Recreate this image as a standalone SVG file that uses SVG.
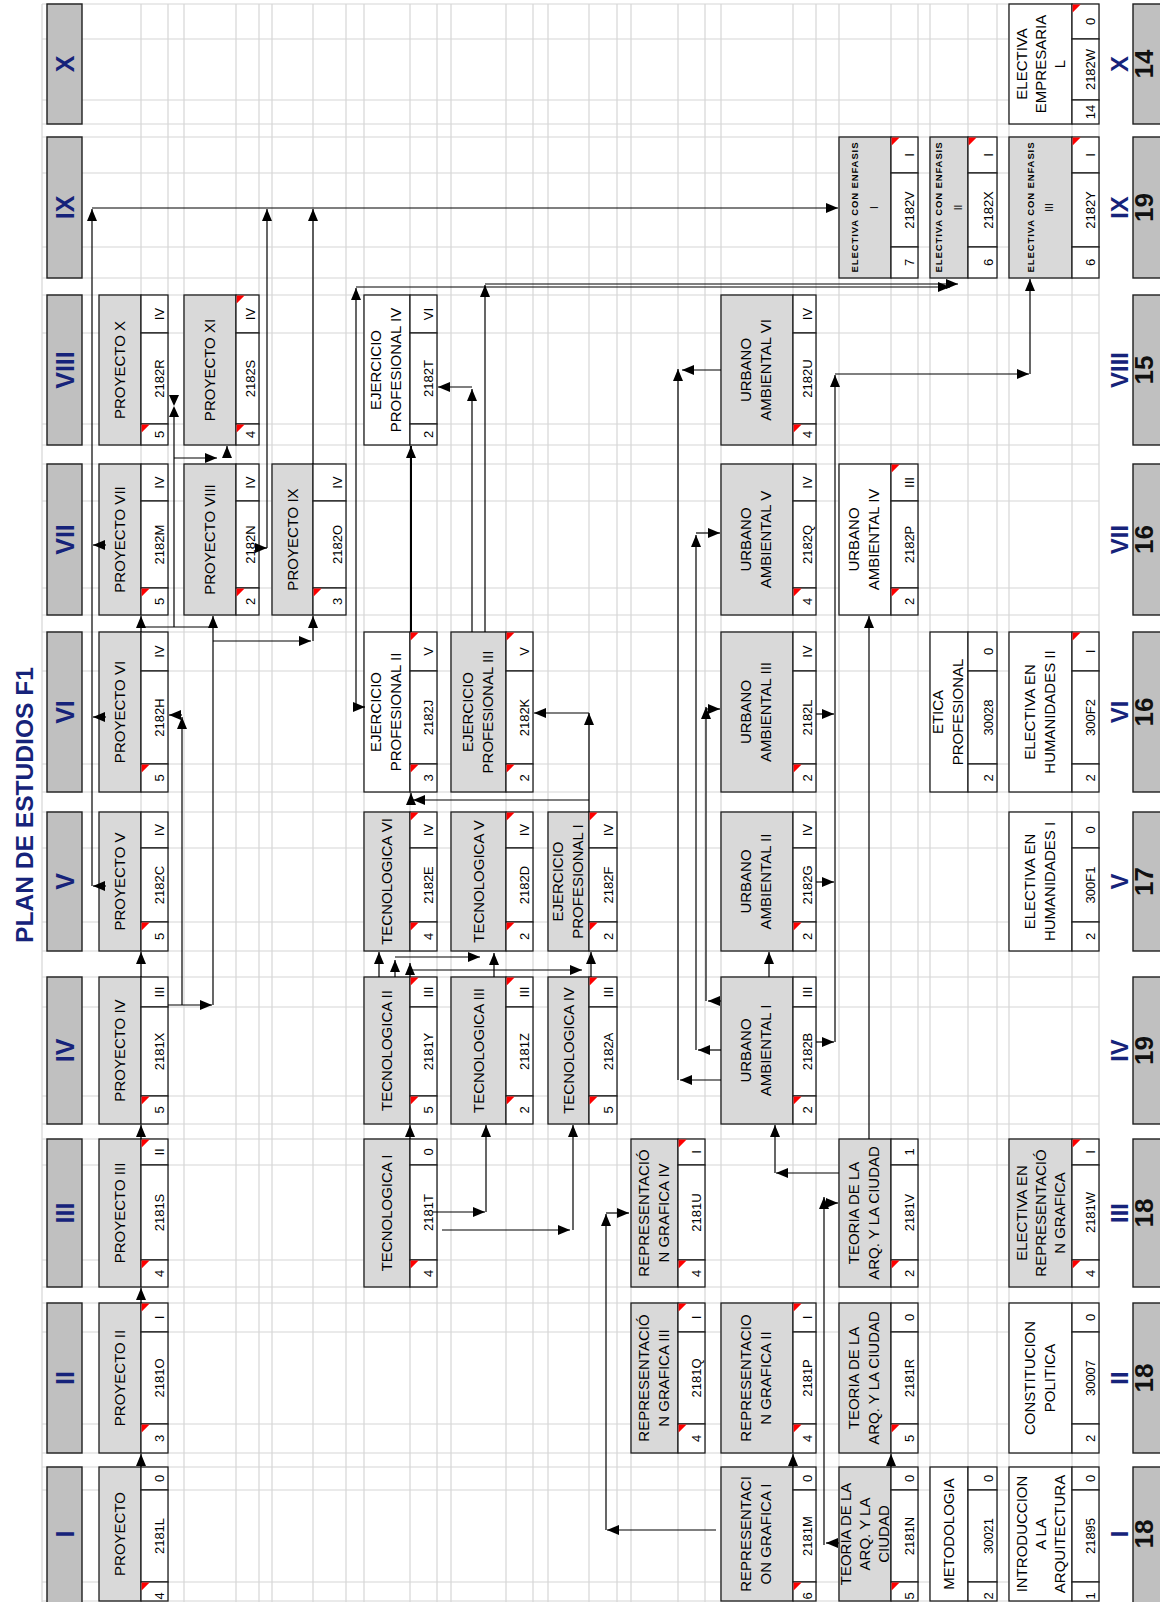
<svg xmlns="http://www.w3.org/2000/svg" width="1160" height="1602" viewBox="0 0 1160 1602">
<style>
.gr{stroke:#d6d6d6;stroke-width:1.2;fill:none}
.hd{fill:#c0c0c0;stroke:#1e1e1e;stroke-width:1.4}
.ng{fill:#d9d9d9;stroke:#1e1e1e;stroke-width:1.3}
.nw{fill:#fff;stroke:#1e1e1e;stroke-width:1.3}
.sc{fill:#fff;stroke:#1e1e1e;stroke-width:1.3}
.rm{fill:#ff0000}
text{font-family:"Liberation Sans",Arial,sans-serif;text-anchor:middle;fill:#000}
.t{font-size:15px}
.s{font-size:13px}
.e{font-size:9.5px;font-weight:bold}
.er{font-size:10px}
.hn{font-size:25px;font-weight:bold;fill:#16237a}
.fr{font-size:24px;font-weight:bold;fill:#16237a}
.fn{font-size:26px;font-weight:bold;fill:#111}
.ti{font-size:24.6px;font-weight:bold;fill:#16237a}
.cn{stroke:#000;stroke-width:1.2;fill:none;marker-end:url(#ah)}
.cl{stroke:#000;stroke-width:1.2;fill:none}
.hf{fill:#000}
</style>
<defs>
<marker id="ah" viewBox="0 0 12 10" refX="12" refY="5" markerWidth="12" markerHeight="10" markerUnits="userSpaceOnUse" orient="auto"><path d="M0 0L12 5L0 10z" fill="#000"/></marker>
</defs>
<rect width="1160" height="1602" fill="#fff"/>
<g id="grid">
<path class="gr" d="M42 4V1602M141 4V1602M168 4V1602M184 4V1602M236 4V1602M259 4V1602M272 4V1602M313 4V1602M346 4V1602M364 4V1602M410 4V1602M437 4V1602M451 4V1602M506 4V1602M533 4V1602M548 4V1602M589 4V1602M617 4V1602M631 4V1602M678 4V1602M705 4V1602M721 4V1602M793 4V1602M816 4V1602M839 4V1602M891 4V1602M918 4V1602M930 4V1602M968 4V1602M997 4V1602M1009 4V1602M1072 4V1602M1099 4V1602"/>
<path class="gr" d="M42 4H1099M42 39H1099M42 100H1099M42 124H1099M42 137H1099M42 173H1099M42 247H1099M42 278H1099M42 295H1099M42 333H1099M42 424H1099M42 445H1099M42 464H1099M42 501H1099M42 588H1099M42 615H1099M42 632H1099M42 671H1099M42 764H1099M42 792H1099M42 812H1099M42 848H1099M42 922H1099M42 951H1099M42 977H1099M42 1007H1099M42 1096H1099M42 1124H1099M42 1139H1099M42 1165H1099M42 1260H1099M42 1287H1099M42 1303H1099M42 1332H1099M42 1424H1099M42 1453H1099M42 1467H1099M42 1490H1099M42 1582H1099M42 1601H1099"/>
</g>
<text class="ti" transform="translate(33 805) rotate(-90)">PLAN DE ESTUDIOS F1</text>
<g id="headers">
<rect class="hd" x="47" y="4" width="35" height="120"/><text class="hn" transform="translate(73.5 64) rotate(-90)">X</text>
<rect class="hd" x="47" y="137" width="35" height="141"/><text class="hn" transform="translate(73.5 207.5) rotate(-90)">IX</text>
<rect class="hd" x="47" y="295" width="35" height="150"/><text class="hn" transform="translate(73.5 370) rotate(-90)">VIII</text>
<rect class="hd" x="47" y="464" width="35" height="151"/><text class="hn" transform="translate(73.5 539.5) rotate(-90)">VII</text>
<rect class="hd" x="47" y="632" width="35" height="160"/><text class="hn" transform="translate(73.5 712) rotate(-90)">VI</text>
<rect class="hd" x="47" y="812" width="35" height="139"/><text class="hn" transform="translate(73.5 881.5) rotate(-90)">V</text>
<rect class="hd" x="47" y="977" width="35" height="147"/><text class="hn" transform="translate(73.5 1050.5) rotate(-90)">IV</text>
<rect class="hd" x="47" y="1139" width="35" height="148"/><text class="hn" transform="translate(73.5 1213) rotate(-90)">III</text>
<rect class="hd" x="47" y="1303" width="35" height="150"/><text class="hn" transform="translate(73.5 1378) rotate(-90)">II</text>
<rect class="hd" x="47" y="1467" width="35" height="140"/><text class="hn" transform="translate(73.5 1534) rotate(-90)">I</text>
</g>
<g id="footers">
<text class="fr" transform="translate(1127.5 64) rotate(-90)">X</text><rect class="hd" x="1133" y="4" width="40" height="120"/><text class="fn" transform="translate(1153 64) rotate(-90)">14</text>
<text class="fr" transform="translate(1127.5 207.5) rotate(-90)">IX</text><rect class="hd" x="1133" y="137" width="40" height="141"/><text class="fn" transform="translate(1153 207.5) rotate(-90)">19</text>
<text class="fr" transform="translate(1127.5 370) rotate(-90)">VIII</text><rect class="hd" x="1133" y="295" width="40" height="150"/><text class="fn" transform="translate(1153 370) rotate(-90)">15</text>
<text class="fr" transform="translate(1127.5 539.5) rotate(-90)">VII</text><rect class="hd" x="1133" y="464" width="40" height="151"/><text class="fn" transform="translate(1153 539.5) rotate(-90)">16</text>
<text class="fr" transform="translate(1127.5 712) rotate(-90)">VI</text><rect class="hd" x="1133" y="632" width="40" height="160"/><text class="fn" transform="translate(1153 712) rotate(-90)">16</text>
<text class="fr" transform="translate(1127.5 881.5) rotate(-90)">V</text><rect class="hd" x="1133" y="812" width="40" height="139"/><text class="fn" transform="translate(1153 881.5) rotate(-90)">17</text>
<text class="fr" transform="translate(1127.5 1050.5) rotate(-90)">IV</text><rect class="hd" x="1133" y="977" width="40" height="147"/><text class="fn" transform="translate(1153 1050.5) rotate(-90)">19</text>
<text class="fr" transform="translate(1127.5 1213) rotate(-90)">III</text><rect class="hd" x="1133" y="1139" width="40" height="148"/><text class="fn" transform="translate(1153 1213) rotate(-90)">18</text>
<text class="fr" transform="translate(1127.5 1378) rotate(-90)">II</text><rect class="hd" x="1133" y="1303" width="40" height="150"/><text class="fn" transform="translate(1153 1378) rotate(-90)">18</text>
<text class="fr" transform="translate(1127.5 1534) rotate(-90)">I</text><rect class="hd" x="1133" y="1467" width="40" height="140"/><text class="fn" transform="translate(1153 1534) rotate(-90)">18</text>
</g>
<g id="nodes">
<g id="n2182W"><rect class="nw" x="1009" y="4" width="63" height="120"/><rect class="sc" x="1072" y="4" width="27" height="35"/><rect class="sc" x="1072" y="39" width="27" height="61"/><rect class="sc" x="1072" y="100" width="27" height="24"/><path class="rm" d="M1072.6 4.6h8l-8 8z"/><text class="t" transform="translate(1026.9 64) rotate(-90)">ELECTIVA</text><text class="t" transform="translate(1045.9 64) rotate(-90)">EMPRESARIA</text><text class="t" transform="translate(1064.9 64) rotate(-90)">L</text><text class="s" transform="translate(1094.5 21.5) rotate(-90)">0</text><text class="s" transform="translate(1094.5 69.5) rotate(-90)">2182W</text><text class="s" transform="translate(1094.5 112) rotate(-90)">14</text></g>
<g id="n2182V"><rect class="ng" x="839" y="137" width="52" height="141"/><rect class="sc" x="891" y="137" width="27" height="36"/><rect class="sc" x="891" y="173" width="27" height="74"/><rect class="sc" x="891" y="247" width="27" height="31"/><path class="rm" d="M891.6 137.6h8l-8 8z"/><text class="e" textLength="130" lengthAdjust="spacing" transform="translate(858.4 207.5) rotate(-90)">ELECTIVA CON ENFASIS</text><text class="er" transform="translate(877.6 207.5) rotate(-90)">I</text><text class="s" transform="translate(913.5 155) rotate(-90)">I</text><text class="s" transform="translate(913.5 210) rotate(-90)">2182V</text><text class="s" transform="translate(913.5 262.5) rotate(-90)">7</text></g>
<g id="n2182X"><rect class="ng" x="930" y="137" width="38" height="141"/><rect class="sc" x="968" y="137" width="29" height="36"/><rect class="sc" x="968" y="173" width="29" height="74"/><rect class="sc" x="968" y="247" width="29" height="31"/><path class="rm" d="M968.6 137.6h8l-8 8z"/><text class="e" textLength="130" lengthAdjust="spacing" transform="translate(942.4 207.5) rotate(-90)">ELECTIVA CON ENFASIS</text><text class="er" transform="translate(961.6 207.5) rotate(-90)">II</text><text class="s" transform="translate(992.5 155) rotate(-90)">I</text><text class="s" transform="translate(992.5 210) rotate(-90)">2182X</text><text class="s" transform="translate(992.5 262.5) rotate(-90)">6</text></g>
<g id="n2182Y"><rect class="ng" x="1009" y="137" width="63" height="141"/><rect class="sc" x="1072" y="137" width="27" height="36"/><rect class="sc" x="1072" y="173" width="27" height="74"/><rect class="sc" x="1072" y="247" width="27" height="31"/><path class="rm" d="M1072.6 137.6h8l-8 8z"/><text class="e" textLength="130" lengthAdjust="spacing" transform="translate(1033.9 207.5) rotate(-90)">ELECTIVA CON ENFASIS</text><text class="er" transform="translate(1053.1 207.5) rotate(-90)">III</text><text class="s" transform="translate(1094.5 155) rotate(-90)">I</text><text class="s" transform="translate(1094.5 210) rotate(-90)">2182Y</text><text class="s" transform="translate(1094.5 262.5) rotate(-90)">6</text></g>
<g id="n2182R"><rect class="ng" x="99" y="295" width="42" height="150"/><rect class="sc" x="141" y="295" width="27" height="38"/><rect class="sc" x="141" y="333" width="27" height="91"/><rect class="sc" x="141" y="424" width="27" height="21"/><path class="rm" d="M141.6 424.6h8l-8 8z"/><text class="t" transform="translate(125.4 370) rotate(-90)">PROYECTO X</text><text class="s" transform="translate(163.5 314) rotate(-90)">IV</text><text class="s" transform="translate(163.5 378.5) rotate(-90)">2182R</text><text class="s" transform="translate(163.5 434.5) rotate(-90)">5</text></g>
<g id="n2182S"><rect class="ng" x="184" y="295" width="52" height="150"/><rect class="sc" x="236" y="295" width="23" height="38"/><rect class="sc" x="236" y="333" width="23" height="91"/><rect class="sc" x="236" y="424" width="23" height="21"/><path class="rm" d="M236.6 295.6h8l-8 8z"/><path class="rm" d="M236.6 424.6h8l-8 8z"/><text class="t" transform="translate(215.4 370) rotate(-90)">PROYECTO XI</text><text class="s" transform="translate(254.5 314) rotate(-90)">IV</text><text class="s" transform="translate(254.5 378.5) rotate(-90)">2182S</text><text class="s" transform="translate(254.5 434.5) rotate(-90)">4</text></g>
<g id="n2182T"><rect class="nw" x="364" y="295" width="46" height="150"/><rect class="sc" x="410" y="295" width="27" height="38"/><rect class="sc" x="410" y="333" width="27" height="91"/><rect class="sc" x="410" y="424" width="27" height="21"/><text class="t" transform="translate(381.4 370) rotate(-90)">EJERCICIO</text><text class="t" transform="translate(401.4 370) rotate(-90)">PROFESIONAL IV</text><text class="s" transform="translate(432.5 314) rotate(-90)">VI</text><text class="s" transform="translate(432.5 378.5) rotate(-90)">2182T</text><text class="s" transform="translate(432.5 434.5) rotate(-90)">2</text></g>
<g id="n2182U"><rect class="ng" x="721" y="295" width="72" height="150"/><rect class="sc" x="793" y="295" width="23" height="38"/><rect class="sc" x="793" y="333" width="23" height="91"/><rect class="sc" x="793" y="424" width="23" height="21"/><path class="rm" d="M793.6 424.6h8l-8 8z"/><text class="t" transform="translate(751.4 370) rotate(-90)">URBANO</text><text class="t" transform="translate(771.4 370) rotate(-90)">AMBIENTAL VI</text><text class="s" transform="translate(811.5 314) rotate(-90)">IV</text><text class="s" transform="translate(811.5 378.5) rotate(-90)">2182U</text><text class="s" transform="translate(811.5 434.5) rotate(-90)">4</text></g>
<g id="n2182M"><rect class="ng" x="99" y="464" width="42" height="151"/><rect class="sc" x="141" y="464" width="27" height="37"/><rect class="sc" x="141" y="501" width="27" height="87"/><rect class="sc" x="141" y="588" width="27" height="27"/><path class="rm" d="M141.6 588.6h8l-8 8z"/><text class="t" transform="translate(125.4 539.5) rotate(-90)">PROYECTO VII</text><text class="s" transform="translate(163.5 482.5) rotate(-90)">IV</text><text class="s" transform="translate(163.5 544.5) rotate(-90)">2182M</text><text class="s" transform="translate(163.5 601.5) rotate(-90)">5</text></g>
<g id="n2182N"><rect class="ng" x="184" y="464" width="52" height="151"/><rect class="sc" x="236" y="464" width="23" height="37"/><rect class="sc" x="236" y="501" width="23" height="87"/><rect class="sc" x="236" y="588" width="23" height="27"/><path class="rm" d="M236.6 588.6h8l-8 8z"/><text class="t" transform="translate(215.4 539.5) rotate(-90)">PROYECTO VIII</text><text class="s" transform="translate(254.5 482.5) rotate(-90)">IV</text><text class="s" transform="translate(254.5 544.5) rotate(-90)">2182N</text><text class="s" transform="translate(254.5 601.5) rotate(-90)">2</text></g>
<g id="n2182O"><rect class="ng" x="272" y="464" width="41" height="151"/><rect class="sc" x="313" y="464" width="33" height="37"/><rect class="sc" x="313" y="501" width="33" height="87"/><rect class="sc" x="313" y="588" width="33" height="27"/><path class="rm" d="M313.6 588.6h8l-8 8z"/><text class="t" transform="translate(297.9 539.5) rotate(-90)">PROYECTO IX</text><text class="s" transform="translate(341.5 482.5) rotate(-90)">IV</text><text class="s" transform="translate(341.5 544.5) rotate(-90)">2182O</text><text class="s" transform="translate(341.5 601.5) rotate(-90)">3</text></g>
<g id="n2182Q"><rect class="ng" x="721" y="464" width="72" height="151"/><rect class="sc" x="793" y="464" width="23" height="37"/><rect class="sc" x="793" y="501" width="23" height="87"/><rect class="sc" x="793" y="588" width="23" height="27"/><path class="rm" d="M793.6 588.6h8l-8 8z"/><text class="t" transform="translate(751.4 539.5) rotate(-90)">URBANO</text><text class="t" transform="translate(771.4 539.5) rotate(-90)">AMBIENTAL V</text><text class="s" transform="translate(811.5 482.5) rotate(-90)">IV</text><text class="s" transform="translate(811.5 544.5) rotate(-90)">2182Q</text><text class="s" transform="translate(811.5 601.5) rotate(-90)">4</text></g>
<g id="n2182P"><rect class="nw" x="839" y="464" width="52" height="151"/><rect class="sc" x="891" y="464" width="27" height="37"/><rect class="sc" x="891" y="501" width="27" height="87"/><rect class="sc" x="891" y="588" width="27" height="27"/><path class="rm" d="M891.6 464.6h8l-8 8z"/><path class="rm" d="M891.6 588.6h8l-8 8z"/><text class="t" transform="translate(859.4 539.5) rotate(-90)">URBANO</text><text class="t" transform="translate(879.4 539.5) rotate(-90)">AMBIENTAL IV</text><text class="s" transform="translate(913.5 482.5) rotate(-90)">III</text><text class="s" transform="translate(913.5 544.5) rotate(-90)">2182P</text><text class="s" transform="translate(913.5 601.5) rotate(-90)">2</text></g>
<g id="n2182H"><rect class="ng" x="99" y="632" width="42" height="160"/><rect class="sc" x="141" y="632" width="27" height="39"/><rect class="sc" x="141" y="671" width="27" height="93"/><rect class="sc" x="141" y="764" width="27" height="28"/><path class="rm" d="M141.6 764.6h8l-8 8z"/><text class="t" transform="translate(125.4 712) rotate(-90)">PROYECTO VI</text><text class="s" transform="translate(163.5 651.5) rotate(-90)">IV</text><text class="s" transform="translate(163.5 717.5) rotate(-90)">2182H</text><text class="s" transform="translate(163.5 778) rotate(-90)">5</text></g>
<g id="n2182J"><rect class="nw" x="364" y="632" width="46" height="160"/><rect class="sc" x="410" y="632" width="27" height="39"/><rect class="sc" x="410" y="671" width="27" height="93"/><rect class="sc" x="410" y="764" width="27" height="28"/><path class="rm" d="M410.6 632.6h8l-8 8z"/><path class="rm" d="M410.6 764.6h8l-8 8z"/><text class="t" transform="translate(381.4 712) rotate(-90)">EJERCICIO</text><text class="t" transform="translate(401.4 712) rotate(-90)">PROFESIONAL II</text><text class="s" transform="translate(432.5 651.5) rotate(-90)">V</text><text class="s" transform="translate(432.5 717.5) rotate(-90)">2182J</text><text class="s" transform="translate(432.5 778) rotate(-90)">3</text></g>
<g id="n2182K"><rect class="ng" x="451" y="632" width="55" height="160"/><rect class="sc" x="506" y="632" width="27" height="39"/><rect class="sc" x="506" y="671" width="27" height="93"/><rect class="sc" x="506" y="764" width="27" height="28"/><path class="rm" d="M506.6 632.6h8l-8 8z"/><path class="rm" d="M506.6 764.6h8l-8 8z"/><text class="t" transform="translate(472.9 712) rotate(-90)">EJERCICIO</text><text class="t" transform="translate(492.9 712) rotate(-90)">PROFESIONAL III</text><text class="s" transform="translate(528.5 651.5) rotate(-90)">V</text><text class="s" transform="translate(528.5 717.5) rotate(-90)">2182K</text><text class="s" transform="translate(528.5 778) rotate(-90)">2</text></g>
<g id="n2182L"><rect class="ng" x="721" y="632" width="72" height="160"/><rect class="sc" x="793" y="632" width="23" height="39"/><rect class="sc" x="793" y="671" width="23" height="93"/><rect class="sc" x="793" y="764" width="23" height="28"/><path class="rm" d="M793.6 764.6h8l-8 8z"/><text class="t" transform="translate(751.4 712) rotate(-90)">URBANO</text><text class="t" transform="translate(771.4 712) rotate(-90)">AMBIENTAL III</text><text class="s" transform="translate(811.5 651.5) rotate(-90)">IV</text><text class="s" transform="translate(811.5 717.5) rotate(-90)">2182L</text><text class="s" transform="translate(811.5 778) rotate(-90)">2</text></g>
<g id="n30028"><rect class="nw" x="930" y="632" width="38" height="160"/><rect class="sc" x="968" y="632" width="29" height="39"/><rect class="sc" x="968" y="671" width="29" height="93"/><rect class="sc" x="968" y="764" width="29" height="28"/><text class="t" transform="translate(943.4 712) rotate(-90)">ETICA</text><text class="t" transform="translate(963.4 712) rotate(-90)">PROFESIONAL</text><text class="s" transform="translate(992.5 651.5) rotate(-90)">0</text><text class="s" transform="translate(992.5 717.5) rotate(-90)">30028</text><text class="s" transform="translate(992.5 778) rotate(-90)">2</text></g>
<g id="n300F2"><rect class="nw" x="1009" y="632" width="63" height="160"/><rect class="sc" x="1072" y="632" width="27" height="39"/><rect class="sc" x="1072" y="671" width="27" height="93"/><rect class="sc" x="1072" y="764" width="27" height="28"/><path class="rm" d="M1072.6 632.6h8l-8 8z"/><text class="t" transform="translate(1034.9 712) rotate(-90)">ELECTIVA EN</text><text class="t" transform="translate(1054.9 712) rotate(-90)">HUMANIDADES II</text><text class="s" transform="translate(1094.5 651.5) rotate(-90)">I</text><text class="s" transform="translate(1094.5 717.5) rotate(-90)">300F2</text><text class="s" transform="translate(1094.5 778) rotate(-90)">2</text></g>
<g id="n2182C"><rect class="ng" x="99" y="812" width="42" height="139"/><rect class="sc" x="141" y="812" width="27" height="36"/><rect class="sc" x="141" y="848" width="27" height="74"/><rect class="sc" x="141" y="922" width="27" height="29"/><path class="rm" d="M141.6 922.6h8l-8 8z"/><text class="t" transform="translate(125.4 881.5) rotate(-90)">PROYECTO V</text><text class="s" transform="translate(163.5 830) rotate(-90)">IV</text><text class="s" transform="translate(163.5 885) rotate(-90)">2182C</text><text class="s" transform="translate(163.5 936.5) rotate(-90)">5</text></g>
<g id="n2182E"><rect class="ng" x="364" y="812" width="46" height="139"/><rect class="sc" x="410" y="812" width="27" height="36"/><rect class="sc" x="410" y="848" width="27" height="74"/><rect class="sc" x="410" y="922" width="27" height="29"/><path class="rm" d="M410.6 812.6h8l-8 8z"/><path class="rm" d="M410.6 922.6h8l-8 8z"/><text class="t" transform="translate(392.4 881.5) rotate(-90)">TECNOLOGICA VI</text><text class="s" transform="translate(432.5 830) rotate(-90)">IV</text><text class="s" transform="translate(432.5 885) rotate(-90)">2182E</text><text class="s" transform="translate(432.5 936.5) rotate(-90)">4</text></g>
<g id="n2182D"><rect class="ng" x="451" y="812" width="55" height="139"/><rect class="sc" x="506" y="812" width="27" height="36"/><rect class="sc" x="506" y="848" width="27" height="74"/><rect class="sc" x="506" y="922" width="27" height="29"/><path class="rm" d="M506.6 812.6h8l-8 8z"/><path class="rm" d="M506.6 922.6h8l-8 8z"/><text class="t" transform="translate(483.9 881.5) rotate(-90)">TECNOLOGICA V</text><text class="s" transform="translate(528.5 830) rotate(-90)">IV</text><text class="s" transform="translate(528.5 885) rotate(-90)">2182D</text><text class="s" transform="translate(528.5 936.5) rotate(-90)">2</text></g>
<g id="n2182F"><rect class="ng" x="548" y="812" width="41" height="139"/><rect class="sc" x="589" y="812" width="28" height="36"/><rect class="sc" x="589" y="848" width="28" height="74"/><rect class="sc" x="589" y="922" width="28" height="29"/><path class="rm" d="M589.6 812.6h8l-8 8z"/><path class="rm" d="M589.6 922.6h8l-8 8z"/><text class="t" transform="translate(562.9 881.5) rotate(-90)">EJERCICIO</text><text class="t" transform="translate(582.9 881.5) rotate(-90)">PROFESIONAL I</text><text class="s" transform="translate(612.5 830) rotate(-90)">IV</text><text class="s" transform="translate(612.5 885) rotate(-90)">2182F</text><text class="s" transform="translate(612.5 936.5) rotate(-90)">2</text></g>
<g id="n2182G"><rect class="ng" x="721" y="812" width="72" height="139"/><rect class="sc" x="793" y="812" width="23" height="36"/><rect class="sc" x="793" y="848" width="23" height="74"/><rect class="sc" x="793" y="922" width="23" height="29"/><path class="rm" d="M793.6 922.6h8l-8 8z"/><text class="t" transform="translate(751.4 881.5) rotate(-90)">URBANO</text><text class="t" transform="translate(771.4 881.5) rotate(-90)">AMBIENTAL II</text><text class="s" transform="translate(811.5 830) rotate(-90)">IV</text><text class="s" transform="translate(811.5 885) rotate(-90)">2182G</text><text class="s" transform="translate(811.5 936.5) rotate(-90)">2</text></g>
<g id="n300F1"><rect class="nw" x="1009" y="812" width="63" height="139"/><rect class="sc" x="1072" y="812" width="27" height="36"/><rect class="sc" x="1072" y="848" width="27" height="74"/><rect class="sc" x="1072" y="922" width="27" height="29"/><text class="t" transform="translate(1034.9 881.5) rotate(-90)">ELECTIVA EN</text><text class="t" transform="translate(1054.9 881.5) rotate(-90)">HUMANIDADES I</text><text class="s" transform="translate(1094.5 830) rotate(-90)">0</text><text class="s" transform="translate(1094.5 885) rotate(-90)">300F1</text><text class="s" transform="translate(1094.5 936.5) rotate(-90)">2</text></g>
<g id="n2181X"><rect class="ng" x="99" y="977" width="42" height="147"/><rect class="sc" x="141" y="977" width="27" height="30"/><rect class="sc" x="141" y="1007" width="27" height="89"/><rect class="sc" x="141" y="1096" width="27" height="28"/><path class="rm" d="M141.6 1096.6h8l-8 8z"/><text class="t" transform="translate(125.4 1050.5) rotate(-90)">PROYECTO IV</text><text class="s" transform="translate(163.5 992) rotate(-90)">III</text><text class="s" transform="translate(163.5 1051.5) rotate(-90)">2181X</text><text class="s" transform="translate(163.5 1110) rotate(-90)">5</text></g>
<g id="n2181Y"><rect class="ng" x="364" y="977" width="46" height="147"/><rect class="sc" x="410" y="977" width="27" height="30"/><rect class="sc" x="410" y="1007" width="27" height="89"/><rect class="sc" x="410" y="1096" width="27" height="28"/><path class="rm" d="M410.6 977.6h8l-8 8z"/><path class="rm" d="M410.6 1096.6h8l-8 8z"/><text class="t" transform="translate(392.4 1050.5) rotate(-90)">TECNOLOGICA II</text><text class="s" transform="translate(432.5 992) rotate(-90)">III</text><text class="s" transform="translate(432.5 1051.5) rotate(-90)">2181Y</text><text class="s" transform="translate(432.5 1110) rotate(-90)">5</text></g>
<g id="n2181Z"><rect class="ng" x="451" y="977" width="55" height="147"/><rect class="sc" x="506" y="977" width="27" height="30"/><rect class="sc" x="506" y="1007" width="27" height="89"/><rect class="sc" x="506" y="1096" width="27" height="28"/><path class="rm" d="M506.6 977.6h8l-8 8z"/><path class="rm" d="M506.6 1096.6h8l-8 8z"/><text class="t" transform="translate(483.9 1050.5) rotate(-90)">TECNOLOGICA III</text><text class="s" transform="translate(528.5 992) rotate(-90)">III</text><text class="s" transform="translate(528.5 1051.5) rotate(-90)">2181Z</text><text class="s" transform="translate(528.5 1110) rotate(-90)">2</text></g>
<g id="n2182A"><rect class="ng" x="548" y="977" width="41" height="147"/><rect class="sc" x="589" y="977" width="28" height="30"/><rect class="sc" x="589" y="1007" width="28" height="89"/><rect class="sc" x="589" y="1096" width="28" height="28"/><path class="rm" d="M589.6 977.6h8l-8 8z"/><path class="rm" d="M589.6 1096.6h8l-8 8z"/><text class="t" transform="translate(573.9 1050.5) rotate(-90)">TECNOLOGICA IV</text><text class="s" transform="translate(612.5 992) rotate(-90)">III</text><text class="s" transform="translate(612.5 1051.5) rotate(-90)">2182A</text><text class="s" transform="translate(612.5 1110) rotate(-90)">5</text></g>
<g id="n2182B"><rect class="ng" x="721" y="977" width="72" height="147"/><rect class="sc" x="793" y="977" width="23" height="30"/><rect class="sc" x="793" y="1007" width="23" height="89"/><rect class="sc" x="793" y="1096" width="23" height="28"/><path class="rm" d="M793.6 1096.6h8l-8 8z"/><text class="t" transform="translate(751.4 1050.5) rotate(-90)">URBANO</text><text class="t" transform="translate(771.4 1050.5) rotate(-90)">AMBIENTAL I</text><text class="s" transform="translate(811.5 992) rotate(-90)">III</text><text class="s" transform="translate(811.5 1051.5) rotate(-90)">2182B</text><text class="s" transform="translate(811.5 1110) rotate(-90)">2</text></g>
<g id="n2181S"><rect class="ng" x="99" y="1139" width="42" height="148"/><rect class="sc" x="141" y="1139" width="27" height="26"/><rect class="sc" x="141" y="1165" width="27" height="95"/><rect class="sc" x="141" y="1260" width="27" height="27"/><path class="rm" d="M141.6 1139.6h8l-8 8z"/><path class="rm" d="M141.6 1260.6h8l-8 8z"/><text class="t" transform="translate(125.4 1213) rotate(-90)">PROYECTO III</text><text class="s" transform="translate(163.5 1152) rotate(-90)">II</text><text class="s" transform="translate(163.5 1212.5) rotate(-90)">2181S</text><text class="s" transform="translate(163.5 1273.5) rotate(-90)">4</text></g>
<g id="n2181T"><rect class="ng" x="364" y="1139" width="46" height="148"/><rect class="sc" x="410" y="1139" width="27" height="26"/><rect class="sc" x="410" y="1165" width="27" height="95"/><rect class="sc" x="410" y="1260" width="27" height="27"/><path class="rm" d="M410.6 1260.6h8l-8 8z"/><text class="t" transform="translate(392.4 1213) rotate(-90)">TECNOLOGICA I</text><text class="s" transform="translate(432.5 1152) rotate(-90)">0</text><text class="s" transform="translate(432.5 1212.5) rotate(-90)">2181T</text><text class="s" transform="translate(432.5 1273.5) rotate(-90)">4</text></g>
<g id="n2181U"><rect class="ng" x="631" y="1139" width="47" height="148"/><rect class="sc" x="678" y="1139" width="27" height="26"/><rect class="sc" x="678" y="1165" width="27" height="95"/><rect class="sc" x="678" y="1260" width="27" height="27"/><path class="rm" d="M678.6 1139.6h8l-8 8z"/><path class="rm" d="M678.6 1260.6h8l-8 8z"/><text class="t" transform="translate(648.9 1213) rotate(-90)">REPRESENTACIÓ</text><text class="t" transform="translate(668.9 1213) rotate(-90)">N GRAFICA IV</text><text class="s" transform="translate(700.5 1152) rotate(-90)">I</text><text class="s" transform="translate(700.5 1212.5) rotate(-90)">2181U</text><text class="s" transform="translate(700.5 1273.5) rotate(-90)">4</text></g>
<g id="n2181V"><rect class="ng" x="839" y="1139" width="52" height="148"/><rect class="sc" x="891" y="1139" width="27" height="26"/><rect class="sc" x="891" y="1165" width="27" height="95"/><rect class="sc" x="891" y="1260" width="27" height="27"/><path class="rm" d="M891.6 1260.6h8l-8 8z"/><text class="t" transform="translate(859.4 1213) rotate(-90)">TEORIA DE LA</text><text class="t" transform="translate(879.4 1213) rotate(-90)">ARQ. Y LA CIUDAD</text><text class="s" transform="translate(913.5 1152) rotate(-90)">1</text><text class="s" transform="translate(913.5 1212.5) rotate(-90)">2181V</text><text class="s" transform="translate(913.5 1273.5) rotate(-90)">2</text></g>
<g id="n2181W"><rect class="ng" x="1009" y="1139" width="63" height="148"/><rect class="sc" x="1072" y="1139" width="27" height="26"/><rect class="sc" x="1072" y="1165" width="27" height="95"/><rect class="sc" x="1072" y="1260" width="27" height="27"/><path class="rm" d="M1072.6 1139.6h8l-8 8z"/><path class="rm" d="M1072.6 1260.6h8l-8 8z"/><text class="t" transform="translate(1026.9 1213) rotate(-90)">ELECTIVA EN</text><text class="t" transform="translate(1045.9 1213) rotate(-90)">REPRESENTACIÓ</text><text class="t" transform="translate(1064.9 1213) rotate(-90)">N GRAFICA</text><text class="s" transform="translate(1094.5 1152) rotate(-90)">I</text><text class="s" transform="translate(1094.5 1212.5) rotate(-90)">2181W</text><text class="s" transform="translate(1094.5 1273.5) rotate(-90)">4</text></g>
<g id="n2181O"><rect class="ng" x="99" y="1303" width="42" height="150"/><rect class="sc" x="141" y="1303" width="27" height="29"/><rect class="sc" x="141" y="1332" width="27" height="92"/><rect class="sc" x="141" y="1424" width="27" height="29"/><path class="rm" d="M141.6 1303.6h8l-8 8z"/><path class="rm" d="M141.6 1424.6h8l-8 8z"/><text class="t" transform="translate(125.4 1378) rotate(-90)">PROYECTO II</text><text class="s" transform="translate(163.5 1317.5) rotate(-90)">I</text><text class="s" transform="translate(163.5 1378) rotate(-90)">2181O</text><text class="s" transform="translate(163.5 1438.5) rotate(-90)">3</text></g>
<g id="n2181Q"><rect class="ng" x="631" y="1303" width="47" height="150"/><rect class="sc" x="678" y="1303" width="27" height="29"/><rect class="sc" x="678" y="1332" width="27" height="92"/><rect class="sc" x="678" y="1424" width="27" height="29"/><path class="rm" d="M678.6 1303.6h8l-8 8z"/><path class="rm" d="M678.6 1424.6h8l-8 8z"/><text class="t" transform="translate(648.9 1378) rotate(-90)">REPRESENTACIÓ</text><text class="t" transform="translate(668.9 1378) rotate(-90)">N GRAFICA III</text><text class="s" transform="translate(700.5 1317.5) rotate(-90)">I</text><text class="s" transform="translate(700.5 1378) rotate(-90)">2181Q</text><text class="s" transform="translate(700.5 1438.5) rotate(-90)">4</text></g>
<g id="n2181P"><rect class="ng" x="721" y="1303" width="72" height="150"/><rect class="sc" x="793" y="1303" width="23" height="29"/><rect class="sc" x="793" y="1332" width="23" height="92"/><rect class="sc" x="793" y="1424" width="23" height="29"/><path class="rm" d="M793.6 1303.6h8l-8 8z"/><path class="rm" d="M793.6 1424.6h8l-8 8z"/><text class="t" transform="translate(751.4 1378) rotate(-90)">REPRESENTACIO</text><text class="t" transform="translate(771.4 1378) rotate(-90)">N  GRAFICA II</text><text class="s" transform="translate(811.5 1317.5) rotate(-90)">I</text><text class="s" transform="translate(811.5 1378) rotate(-90)">2181P</text><text class="s" transform="translate(811.5 1438.5) rotate(-90)">4</text></g>
<g id="n2181R"><rect class="ng" x="839" y="1303" width="52" height="150"/><rect class="sc" x="891" y="1303" width="27" height="29"/><rect class="sc" x="891" y="1332" width="27" height="92"/><rect class="sc" x="891" y="1424" width="27" height="29"/><path class="rm" d="M891.6 1424.6h8l-8 8z"/><text class="t" transform="translate(859.4 1378) rotate(-90)">TEORIA DE LA</text><text class="t" transform="translate(879.4 1378) rotate(-90)">ARQ. Y LA CIUDAD</text><text class="s" transform="translate(913.5 1317.5) rotate(-90)">0</text><text class="s" transform="translate(913.5 1378) rotate(-90)">2181R</text><text class="s" transform="translate(913.5 1438.5) rotate(-90)">5</text></g>
<g id="n30007"><rect class="nw" x="1009" y="1303" width="63" height="150"/><rect class="sc" x="1072" y="1303" width="27" height="29"/><rect class="sc" x="1072" y="1332" width="27" height="92"/><rect class="sc" x="1072" y="1424" width="27" height="29"/><text class="t" transform="translate(1034.9 1378) rotate(-90)">CONSTITUCION</text><text class="t" transform="translate(1054.9 1378) rotate(-90)">POLITICA</text><text class="s" transform="translate(1094.5 1317.5) rotate(-90)">0</text><text class="s" transform="translate(1094.5 1378) rotate(-90)">30007</text><text class="s" transform="translate(1094.5 1438.5) rotate(-90)">2</text></g>
<g id="n2181L"><rect class="ng" x="99" y="1467" width="42" height="134"/><rect class="sc" x="141" y="1467" width="27" height="23"/><rect class="sc" x="141" y="1490" width="27" height="92"/><rect class="sc" x="141" y="1582" width="27" height="19"/><path class="rm" d="M141.6 1582.6h8l-8 8z"/><text class="t" transform="translate(125.4 1534) rotate(-90)">PROYECTO</text><text class="s" transform="translate(163.5 1478.5) rotate(-90)">0</text><text class="s" transform="translate(163.5 1536) rotate(-90)">2181L</text><text class="s" transform="translate(163.5 1596) rotate(-90)">4</text></g>
<g id="n2181M"><rect class="ng" x="721" y="1467" width="72" height="134"/><rect class="sc" x="793" y="1467" width="23" height="23"/><rect class="sc" x="793" y="1490" width="23" height="92"/><rect class="sc" x="793" y="1582" width="23" height="19"/><path class="rm" d="M793.6 1582.6h8l-8 8z"/><text class="t" transform="translate(751.4 1534) rotate(-90)">REPRESENTACI</text><text class="t" transform="translate(771.4 1534) rotate(-90)">ON GRAFICA I</text><text class="s" transform="translate(811.5 1478.5) rotate(-90)">0</text><text class="s" transform="translate(811.5 1536) rotate(-90)">2181M</text><text class="s" transform="translate(811.5 1596) rotate(-90)">6</text></g>
<g id="n2181N"><rect class="ng" x="839" y="1467" width="52" height="134"/><rect class="sc" x="891" y="1467" width="27" height="23"/><rect class="sc" x="891" y="1490" width="27" height="92"/><rect class="sc" x="891" y="1582" width="27" height="19"/><path class="rm" d="M891.6 1582.6h8l-8 8z"/><text class="t" transform="translate(851.4 1534) rotate(-90)">TEORIA DE LA</text><text class="t" transform="translate(870.4 1534) rotate(-90)">ARQ. Y LA</text><text class="t" transform="translate(889.4 1534) rotate(-90)">CIUDAD</text><text class="s" transform="translate(913.5 1478.5) rotate(-90)">0</text><text class="s" transform="translate(913.5 1536) rotate(-90)">2181N</text><text class="s" transform="translate(913.5 1596) rotate(-90)">5</text></g>
<g id="n30021"><rect class="nw" x="930" y="1467" width="38" height="134"/><rect class="sc" x="968" y="1467" width="29" height="23"/><rect class="sc" x="968" y="1490" width="29" height="92"/><rect class="sc" x="968" y="1582" width="29" height="19"/><text class="t" transform="translate(954.4 1534) rotate(-90)">METODOLOGIA</text><text class="s" transform="translate(992.5 1478.5) rotate(-90)">0</text><text class="s" transform="translate(992.5 1536) rotate(-90)">30021</text><text class="s" transform="translate(992.5 1596) rotate(-90)">2</text></g>
<g id="n21895"><rect class="nw" x="1009" y="1467" width="63" height="134"/><rect class="sc" x="1072" y="1467" width="27" height="23"/><rect class="sc" x="1072" y="1490" width="27" height="92"/><rect class="sc" x="1072" y="1582" width="27" height="19"/><text class="t" transform="translate(1026.9 1534) rotate(-90)">INTRODUCCION</text><text class="t" transform="translate(1045.9 1534) rotate(-90)">A LA</text><text class="t" transform="translate(1064.9 1534) rotate(-90)">ARQUITECTURA</text><text class="s" transform="translate(1094.5 1478.5) rotate(-90)">0</text><text class="s" transform="translate(1094.5 1536) rotate(-90)">21895</text><text class="s" transform="translate(1094.5 1596) rotate(-90)">1</text></g>
</g>
<g id="connectors">
<line class="cn" x1="92" y1="208" x2="838" y2="208"/>
<line class="cn" x1="92" y1="886" x2="92" y2="209"/>
<line class="cn" x1="106" y1="545" x2="93" y2="545"/>
<line class="cn" x1="106" y1="717" x2="93" y2="717"/>
<line class="cn" x1="106" y1="886" x2="93" y2="886"/>
<line class="cn" x1="255" y1="548" x2="267" y2="548"/>
<line class="cn" x1="267" y1="548" x2="267" y2="209"/>
<line class="cn" x1="313" y1="464" x2="313" y2="209"/>
<line class="cn" x1="356" y1="287" x2="950" y2="287"/>
<line class="cn" x1="356" y1="707" x2="356" y2="288"/>
<line class="cn" x1="354" y1="707" x2="365" y2="707"/>
<line class="cn" x1="485" y1="284" x2="958" y2="284"/>
<line class="cn" x1="485" y1="632" x2="485" y2="285"/>
<line class="cn" style="stroke-width:2" x1="411" y1="632" x2="411" y2="446"/>
<line class="cn" x1="472" y1="632" x2="472" y2="389"/>
<line class="cn" x1="472" y1="387" x2="438" y2="387"/>
<line class="cn" x1="835" y1="1042" x2="835" y2="375"/>
<line class="cn" x1="835" y1="374" x2="1029" y2="374"/>
<line class="cn" x1="1030" y1="374" x2="1030" y2="279"/>
<line class="cn" x1="816" y1="714" x2="834" y2="714"/>
<line class="cn" x1="816" y1="882" x2="834" y2="882"/>
<line class="cn" x1="816" y1="1042" x2="834" y2="1042"/>
<line class="cn" x1="678" y1="1080" x2="678" y2="369"/>
<line class="cn" x1="721" y1="370" x2="682" y2="370"/>
<line class="cn" x1="721" y1="1080" x2="680" y2="1080"/>
<line class="cn" x1="696" y1="1050" x2="696" y2="535"/>
<line class="cn" x1="696" y1="533" x2="720" y2="533"/>
<line class="cn" x1="721" y1="1050" x2="698" y2="1050"/>
<line class="cn" x1="706" y1="1001" x2="706" y2="707"/>
<line class="cn" x1="706" y1="709" x2="720" y2="709"/>
<line class="cn" x1="721" y1="1001" x2="708" y2="1001"/>
<line class="cn" x1="769" y1="977" x2="769" y2="952"/>
<line class="cn" x1="839" y1="1173" x2="776" y2="1173"/>
<line class="cn" x1="775" y1="1173" x2="775" y2="1125"/>
<line class="cn" x1="869" y1="1139" x2="869" y2="616"/>
<line class="cn" x1="589" y1="812" x2="589" y2="713"/>
<line class="cn" x1="589" y1="713" x2="534" y2="713"/>
<line class="cn" x1="589" y1="800" x2="413" y2="800"/>
<line class="cn" x1="411" y1="805" x2="411" y2="793"/>
<line class="cn" x1="591" y1="977" x2="591" y2="952"/>
<line class="cn" x1="410" y1="1139" x2="410" y2="1125"/>
<line class="cn" x1="379" y1="977" x2="379" y2="952"/>
<line class="cn" x1="395" y1="977" x2="395" y2="960"/>
<line class="cn" x1="395" y1="957" x2="480" y2="957"/>
<line class="cn" x1="410" y1="977" x2="410" y2="963"/>
<line class="cn" x1="410" y1="970" x2="582" y2="970"/>
<line class="cn" x1="494" y1="977" x2="494" y2="953"/>
<line class="cn" x1="432" y1="1212" x2="485" y2="1212"/>
<line class="cn" x1="486" y1="1212" x2="486" y2="1125"/>
<line class="cn" x1="442" y1="1230" x2="570" y2="1230"/>
<line class="cn" x1="573" y1="1230" x2="573" y2="1125"/>
<line class="cn" x1="141" y1="1467" x2="141" y2="1454"/>
<line class="cn" x1="141" y1="1303" x2="141" y2="1288"/>
<line class="cn" x1="141" y1="1139" x2="141" y2="1125"/>
<line class="cn" x1="141" y1="977" x2="141" y2="952"/>
<line class="cn" x1="168" y1="1005" x2="212" y2="1005"/>
<line class="cn" x1="182" y1="1005" x2="182" y2="717"/>
<line class="cn" x1="182" y1="715" x2="169" y2="715"/>
<line class="cn" x1="213" y1="1005" x2="213" y2="616"/>
<line class="cn" x1="141" y1="632" x2="141" y2="616"/>
<line class="cl" x1="141" y1="627" x2="213" y2="627"/>
<line class="cl" x1="174" y1="627" x2="174" y2="408"/>
<path class="hf" d="M169 395h10l-5 11z"/>
<path class="hf" d="M174 406l5 11h-10z"/>
<line class="cn" x1="174" y1="458" x2="217" y2="458"/>
<line class="cn" x1="227" y1="458" x2="227" y2="446"/>
<line class="cn" x1="213" y1="641" x2="311" y2="641"/>
<line class="cn" x1="313" y1="641" x2="313" y2="616"/>
<line class="cn" x1="716" y1="1530" x2="607" y2="1530"/>
<line class="cn" x1="606" y1="1530" x2="606" y2="1214"/>
<line class="cn" x1="606" y1="1213" x2="629" y2="1213"/>
<line class="cn" x1="824" y1="1545" x2="824" y2="1197"/>
<line class="cn" x1="824" y1="1203" x2="838" y2="1203"/>
<line class="cn" x1="839" y1="1543" x2="826" y2="1543"/>
<line class="cn" x1="891" y1="1467" x2="891" y2="1454"/>
<line class="cn" x1="793" y1="1467" x2="793" y2="1454"/>
</g>
</svg>
